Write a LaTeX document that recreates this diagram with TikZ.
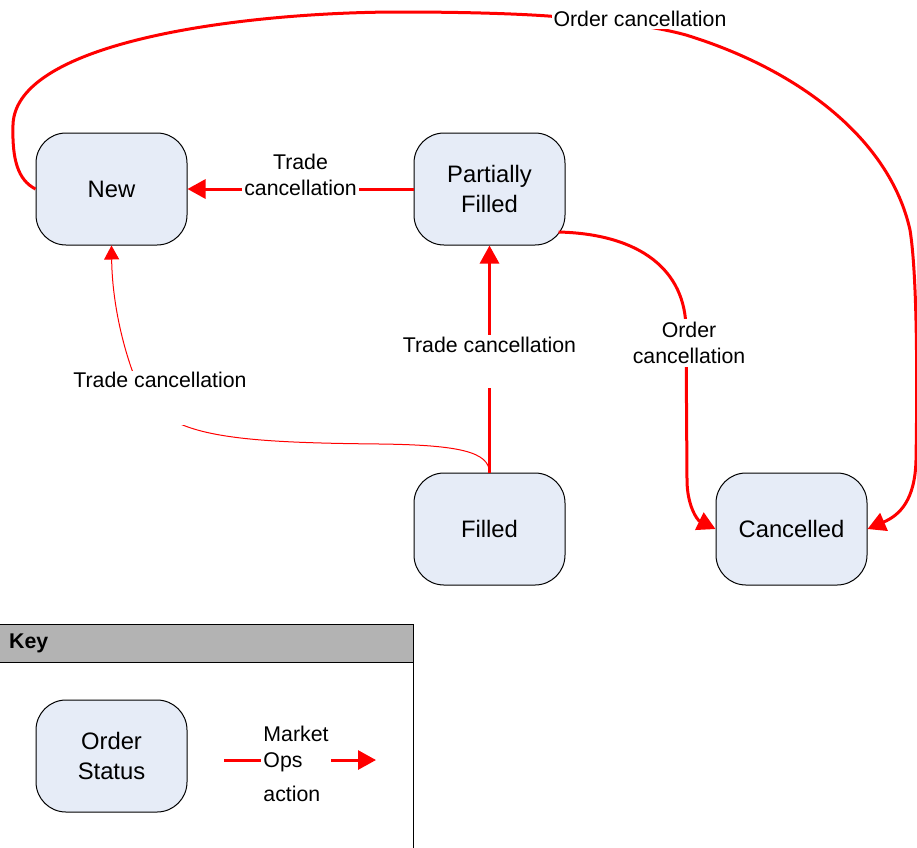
\documentclass[tikz,border=0pt]{standalone}
\usepackage{fontspec}
\setmainfont{Liberation Sans}
\usetikzlibrary{arrows.meta}
\definecolor{statefill}{HTML}{E6ECF7}
\definecolor{keygrey}{HTML}{B3B3B3}

\begin{document}
\begin{tikzpicture}[x=1pt, y=-1pt,
                state/.style={rectangle, rounded corners=30pt, draw=black, line width=1pt, fill=statefill,
                              minimum width=151pt, minimum height=112pt, align=center,
                              font=\fontsize{23.8}{30}\selectfont},
                ops/.style={draw=red, line width=3pt, -{Triangle[length=18pt, width=19pt]}},
                ops_thin/.style={draw=red, line width=1pt, -{Triangle[length=14pt, width=15pt]}},
                lbl/.style={fill=white, inner sep=2pt, align=center, font=\fontsize{21.3}{26}\selectfont}]
                \useasboundingbox (0,0) rectangle (917,847);
                \clip (0,0) rectangle (917,847);
                \node[state] (new) at (111.5,189) {New};
                \node[state] (partial) at (489.5,189) {Partially\\Filled};
                \node[state] (filled) at (489.5,529) {Filled};
                \node[state] (cancelled) at (791.5,529) {Cancelled};
                \draw[ops] (partial.west) -- node[lbl, yshift=14pt] {Trade\\cancellation} (new.east);
                \draw[ops] (filled.north) -- node[lbl, pos=0.614, anchor=north, text depth=34pt] {Trade cancellation} (partial.south);
                \draw[ops_thin] (filled.north) .. controls (489,452) and (460,445) .. (380,444)
                                .. controls (280,443) and (215,440) .. (178,423)
                                .. controls (160,412) and (140,390) .. (132,370)
                                node[lbl, anchor=north, text depth=35pt] at (160,370) {Trade cancellation}
                                .. controls (118,330) and (112,290) .. (new.south);
                \draw[ops] ([shift={(-7,43)}]partial.east) .. controls (640,234) and (686,270) .. (686,330)
                                node[lbl, inner sep=3pt] at (689,343) {Order\\cancellation}
                                -- (687,480) .. controls (687,505) and (697,520) .. (cancelled.west);
                \draw[ops] (new.west) .. controls (18,180) and (12,160) .. (13,125)
                                .. controls (15,40) and (250,12) .. (400,12)
                                .. controls (470,12) and (520,14) .. (548,16)
                                .. controls (600,20) and (650,25) .. (686,35)
                                node[lbl] at (640,19) {Order cancellation}
                                .. controls (800,70) and (890,140) .. (910,230)
                                .. controls (918,280) and (917,400) .. (916,460)
                                .. controls (915,500) and (900,515) .. (cancelled.east);
                % key
                \draw[line width=1pt] (-2,624) rectangle (413,870);
                \draw[line width=1pt, fill=keygrey] (-2,624) rectangle (413,662);
                \node[anchor=west, inner sep=0pt, font=\bfseries\fontsize{21.3}{26}\selectfont] (key) at (9,643) {Key};
                \node[state] (status) at (111.5,756) {Order\\Status};
                \coordinate (opsfrom) at (224,760);
                \coordinate (opsto) at (376,760);
                \draw[ops] (opsfrom) -- node[lbl, align=left, xshift=-4pt, yshift=-4pt] {Market\\Ops\\[8pt]action} (opsto);
            \end{tikzpicture}
\end{document}
